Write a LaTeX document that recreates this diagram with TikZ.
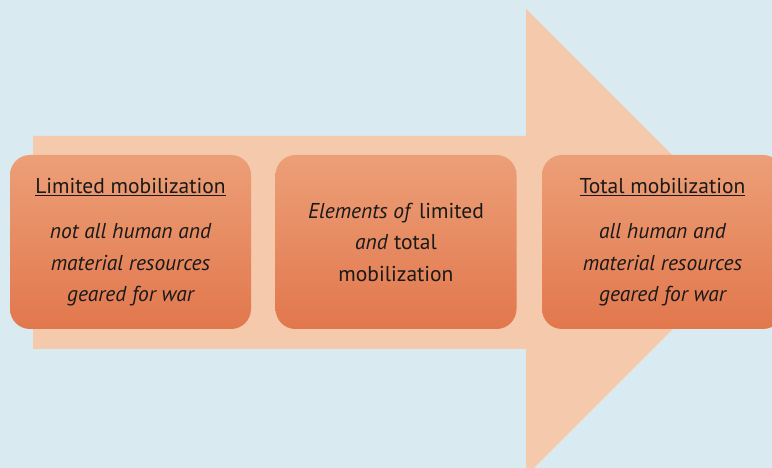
\documentclass[tikz,border=0pt]{standalone}
\usepackage{fontspec}
\setmainfont{PT Sans}
\definecolor{sky}{HTML}{DAEAF1}
\definecolor{arrowfill}{HTML}{F5C9AB}
\definecolor{boxtop}{HTML}{EC9F77}
\definecolor{boxbottom}{HTML}{E2774D}
\tikzset{
  stagebox/.style={rounded corners=20pt,minimum width=241pt,minimum height=174pt,
    top color=boxtop,bottom color=boxbottom,draw=none,align=center,
    font=\fontsize{21.5}{31.5}\selectfont,text=black!90},
}
\begin{document}
\begin{tikzpicture}[x=1pt,y=1pt,line join=round]
  \useasboundingbox (0,0) rectangle (772,468);
  \clip (0,0) rectangle (772,468);
  \fill[sky] (0,0) rectangle (772,468);
  % big arrow behind the stages
  \fill[arrowfill] (33,332) -- (526,332) -- (526,459) -- (759.5,225.5)
    -- (526,-8) -- (526,119) -- (33,119) -- cycle;
  \node[stagebox] (lim) at (130.5,226) {\underline{Limited mobilization}\\[14pt]
    \itshape not all human and\\ \itshape material resources\\ \itshape geared for war};
  \node[stagebox] (mix) at (396,226) {\textit{Elements of} limited\\
    \textit{and} total\\ mobilization};
  \node[stagebox] (tot) at (662.5,226) {\underline{Total mobilization}\\[14pt]
    \itshape all human and\\ \itshape material resources\\ \itshape geared for war};
\end{tikzpicture}
\end{document}
